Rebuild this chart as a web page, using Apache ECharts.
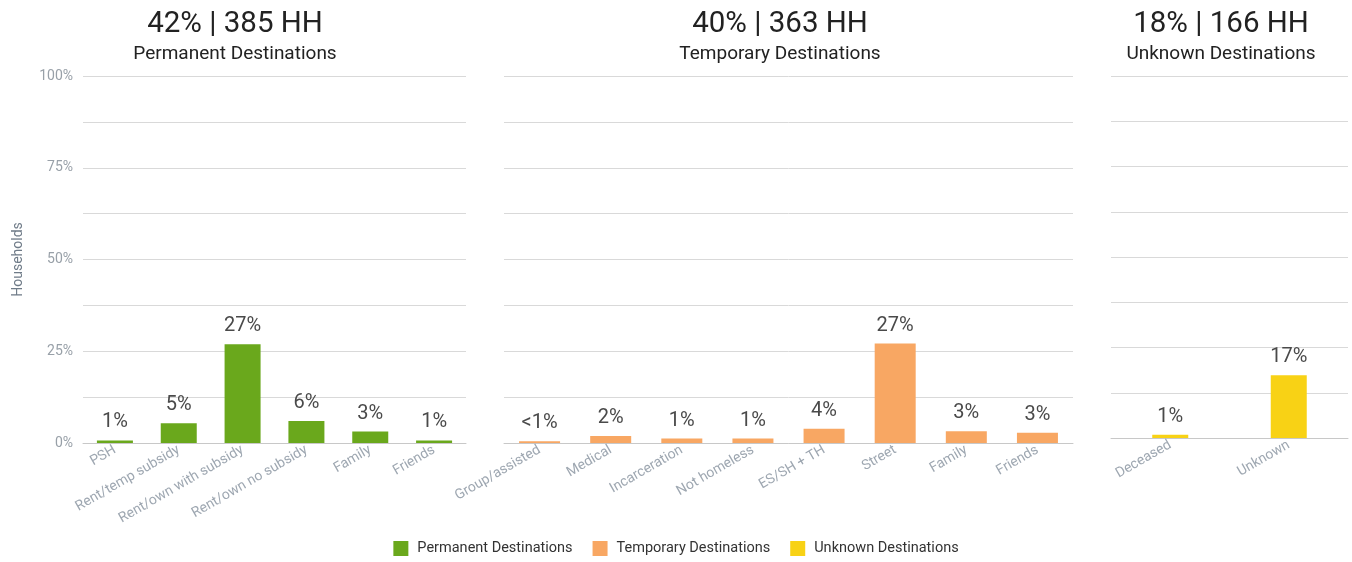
<!DOCTYPE html>
<html>
<head>
<meta charset="utf-8">
<script src="https://cdn.jsdelivr.net/npm/echarts@6/dist/echarts.min.js"></script>
<style>
html,body{margin:0;padding:0;background:#fff;}
#c{width:1352px;height:562px;}
</style>
</head>
<body>
<div id="c"></div>
<script>
// ---- data ----
const permCats = ['PSH', 'Rent/temp subsidy', 'Rent/own with subsidy', 'Rent/own no subsidy', 'Family', 'Friends'];
const permVals = [0.7, 5.4, 26.9, 6.0, 3.1, 0.7];
const permLabels = ['1%', '5%', '27%', '6%', '3%', '1%'];

const tempCats = ['Group/assisted', 'Medical', 'Incarceration', 'Not homeless', 'ES/SH + TH', 'Street', 'Family', 'Friends'];
const tempVals = [0.5, 1.9, 1.2, 1.2, 3.9, 27.1, 3.2, 2.8];
const tempLabels = ['<1%', '2%', '1%', '1%', '4%', '27%', '3%', '3%'];

const unkCats = ['Deceased', 'Unknown'];
const unkVals = [0.9, 17.3];
const unkLabels = ['1%', '17%'];

const seriesNames = ['Permanent Destinations', 'Temporary Destinations', 'Unknown Destinations'];
const panelTitles = ['42% | 385 HH', '40% | 363 HH', '18% | 166 HH'];
const yTicks = [0, 25, 50, 75, 100];
const yAxisName = 'Households';

// ---- chart ----
const colors = ['#6aa81c', '#f8a763', '#f8d215'];
const font = 'Roboto, "Noto Sans", sans-serif';
const chart = echarts.init(document.getElementById('c'));

const grids = [
  {left: 83, top: 76, width: 383, height: 367},
  {left: 504, top: 76, width: 569, height: 367},
  {left: 1111, top: 76, width: 237, height: 362}
];
const cats = [permCats, tempCats, unkCats];
const vals = [permVals, tempVals, unkVals];
const labs = [permLabels, tempLabels, unkLabels];
const barW = [36, 41, 36];
const titleCenters = [230, 775, 1216];

const xAxes = cats.map((c, i) => ({
  type: 'category', gridIndex: i, data: c,
  axisLine: {lineStyle: {color: '#c8c8c8'}},
  axisTick: {length: 5, lineStyle: {color: '#c8c8c8'}},
  axisLabel: {rotate: 30, color: '#9ea7b1', fontSize: 14, fontFamily: font, margin: 6, interval: 0}
}));
const yAxes = cats.map((c, i) => ({
  type: 'value', gridIndex: i, min: 0, max: 100, interval: 12.5,
  name: i === 0 ? yAxisName : '',
  nameLocation: 'middle', nameGap: 58,
  nameTextStyle: {color: '#6f7b88', fontSize: 14, fontFamily: font},
  axisLine: {show: false}, axisTick: {show: false},
  splitLine: {lineStyle: {color: '#d9d9d9'}},
  axisLabel: {
    show: i === 0, color: '#98a0a8', fontSize: 14, fontFamily: font, margin: 10,
    formatter: v => yTicks.indexOf(v) >= 0 ? v + '%' : ''
  }
}));
const series = vals.map((v, i) => ({
  name: seriesNames[i], type: 'bar', xAxisIndex: i, yAxisIndex: i,
  data: v, barWidth: barW[i],
  itemStyle: {color: colors[i]},
  label: {
    show: true, position: 'top', distance: 8,
    color: '#4a4a4a', fontSize: 20, fontFamily: font,
    formatter: p => labs[i][p.dataIndex]
  }
}));
const titles = panelTitles.map((t, i) => ({
  text: t, subtext: seriesNames[i],
  left: titleCenters[i], top: 5, textAlign: 'center', itemGap: 5,
  textStyle: {fontSize: 29.5, fontWeight: 'normal', color: '#222', fontFamily: font},
  subtextStyle: {fontSize: 19, color: '#222', fontFamily: font}
}));

chart.setOption({
  animation: false,
  title: titles,
  grid: grids,
  xAxis: xAxes,
  yAxis: yAxes,
  series: series,
  legend: {
    data: seriesNames, bottom: 1, left: 'center',
    itemWidth: 15, itemHeight: 15, itemGap: 20, icon: 'rect',
    textStyle: {fontSize: 14.5, color: '#333', fontFamily: font, padding: [0, 0, 0, 4]}
  }
});
</script>
</body>
</html>
